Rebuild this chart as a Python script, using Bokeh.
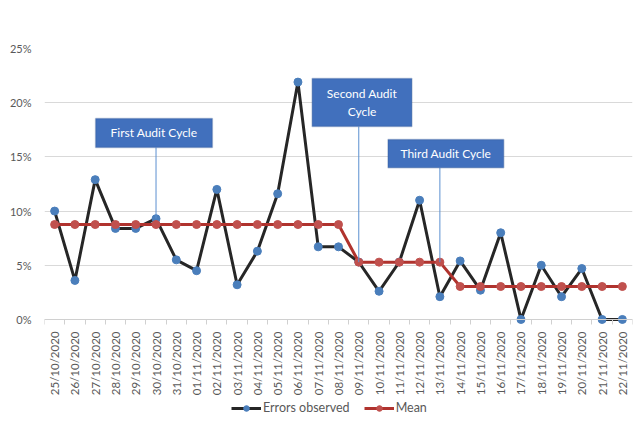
from bokeh.plotting import figure
from bokeh.models import (Range1d, FixedTicker, NumeralTickFormatter, Legend, LegendItem,
                          BoxAnnotation, Label, ColumnDataSource)
from bokeh.embed import file_html
from bokeh.resources import INLINE
import math

dates = ["25/10/2020", "26/10/2020", "27/10/2020", "28/10/2020", "29/10/2020",
         "30/10/2020", "31/10/2020", "01/11/2020", "02/11/2020", "03/11/2020",
         "04/11/2020", "05/11/2020", "06/11/2020", "07/11/2020", "08/11/2020",
         "09/11/2020", "10/11/2020", "11/11/2020", "12/11/2020", "13/11/2020",
         "14/11/2020", "15/11/2020", "16/11/2020", "17/11/2020", "18/11/2020",
         "19/11/2020", "20/11/2020", "21/11/2020", "22/11/2020"]

errors_observed = [0.100, 0.036, 0.129, 0.084, 0.084, 0.093, 0.055, 0.045, 0.120, 0.032,
                   0.063, 0.116, 0.219, 0.067, 0.067, 0.053, 0.026, 0.053, 0.110, 0.021,
                   0.054, 0.027, 0.080, 0.000, 0.050, 0.021, 0.047, 0.000, 0.000]

mean_values = [0.0876, 0.0876, 0.0876, 0.0876, 0.0876, 0.0876, 0.0876, 0.0876, 0.0876, 0.0876,
               0.0876, 0.0876, 0.0876, 0.0876, 0.0876,
               0.0529, 0.0529, 0.0529, 0.0529, 0.0529,
               0.0304, 0.0304, 0.0304, 0.0304, 0.0304, 0.0304, 0.0304, 0.0304, 0.0304]

y_ticks = [0, 0.05, 0.10, 0.15, 0.20, 0.25]

callouts = ["First Audit Cycle", "Second Audit", "Cycle", "Third Audit Cycle"]

FONT = "Lato"
GREY = "#595959"

idx = list(range(len(dates)))
src = ColumnDataSource(dict(x=idx, err=errors_observed, mean=mean_values))

# frame extends below 0 so the legend can sit inside it under the date labels
p = figure(frame_width=588, frame_height=371, output_backend="svg", toolbar_location=None,
           x_range=Range1d(-0.5, len(dates) - 0.5), y_range=Range1d(-0.0923, 0.25),
           min_border_left=44, min_border_right=2, min_border_top=48, min_border_bottom=0)
p.outline_line_color = None
p.background_fill_color = "white"
p.border_fill_color = "white"

# x axis drawn at y = 0
p.xaxis.fixed_location = 0
p.xaxis.ticker = FixedTicker(ticks=idx, minor_ticks=[i - 0.5 for i in range(len(dates) + 1)])
p.xaxis.major_label_overrides = {i: d for i, d in enumerate(dates)}
p.xaxis.major_label_orientation = math.pi / 2
p.xaxis.major_tick_in = 0
p.xaxis.major_tick_out = 0
p.xaxis.minor_tick_in = 0
p.xaxis.minor_tick_out = 5
p.xaxis.minor_tick_line_color = "#d0d0d0"
p.xaxis.axis_line_color = "#d0d0d0"
p.xaxis.major_label_standoff = 7
p.xaxis.major_label_text_font = FONT
p.xaxis.major_label_text_font_size = "11.5px"
p.xaxis.major_label_text_color = GREY

p.yaxis.ticker = FixedTicker(ticks=y_ticks)
p.yaxis.formatter = NumeralTickFormatter(format="0%")
p.yaxis.axis_line_color = None
p.yaxis.major_tick_line_color = None
p.yaxis.minor_tick_line_color = None
p.yaxis.major_label_standoff = 7
p.yaxis.major_label_text_font = FONT
p.yaxis.major_label_text_font_size = "11px"
p.yaxis.major_label_text_color = GREY

p.xgrid.grid_line_color = None
p.ygrid.grid_line_color = "#d9d9d9"
p.ygrid.grid_line_width = 1

# series
l1 = p.line("x", "err", source=src, line_color="#262626", line_width=3)
s1 = p.scatter("x", "err", source=src, size=8, fill_color="#4a7ebb", line_color="#4a7ebb")
l2 = p.line("x", "mean", source=src, line_color="#b0332e", line_width=3)
s2 = p.scatter("x", "mean", source=src, size=8, fill_color="#c0504d", line_color="#c0504d")

# callouts
conn = "#5b8fd0"
p.segment(x0=[5, 15, 19], y0=[0.1587, 0.178, 0.140],
          x1=[5, 15, 19], y1=[errors_observed[5], mean_values[15], mean_values[19]],
          line_color=conn, line_width=1)

boxes = [(2.02, 7.78, 0.1854, 0.1587), (12.7, 17.62, 0.2223, 0.178), (16.44, 22.15, 0.166, 0.140)]
for (l, r, t, b) in boxes:
    p.add_layout(BoxAnnotation(left=l, right=r, top=t, bottom=b, fill_color="#4170bd",
                               fill_alpha=1, line_color="#2f528f", line_width=1.5, level="overlay"))

lab_kw = dict(text_color="white", text_font=FONT, text_font_size="12px",
              text_align="center", text_baseline="middle", level="overlay")
p.add_layout(Label(x=(2.02 + 7.78) / 2, y=(0.1854 + 0.1587) / 2, text=callouts[0], **lab_kw))
p.add_layout(Label(x=(12.7 + 17.62) / 2, y=0.2082, text=callouts[1], **lab_kw))
p.add_layout(Label(x=(12.7 + 17.62) / 2, y=0.1917, text=callouts[2], **lab_kw))
p.add_layout(Label(x=(16.44 + 22.15) / 2, y=(0.166 + 0.140) / 2, text=callouts[3], **lab_kw))

legend = Legend(items=[LegendItem(label="Errors observed", renderers=[l1, s1]),
                       LegendItem(label="Mean", renderers=[l2, s2])],
                location=(187, 4), orientation="horizontal",
                label_text_font=FONT, label_text_font_size="12.5px", label_text_color=GREY,
                glyph_width=30, glyph_height=14, label_height=14, label_standoff=2, spacing=14,
                border_line_color=None, background_fill_alpha=0,
                padding=2, margin=0)
p.add_layout(legend)

open("out.html", "w").write(file_html(p, INLINE))
